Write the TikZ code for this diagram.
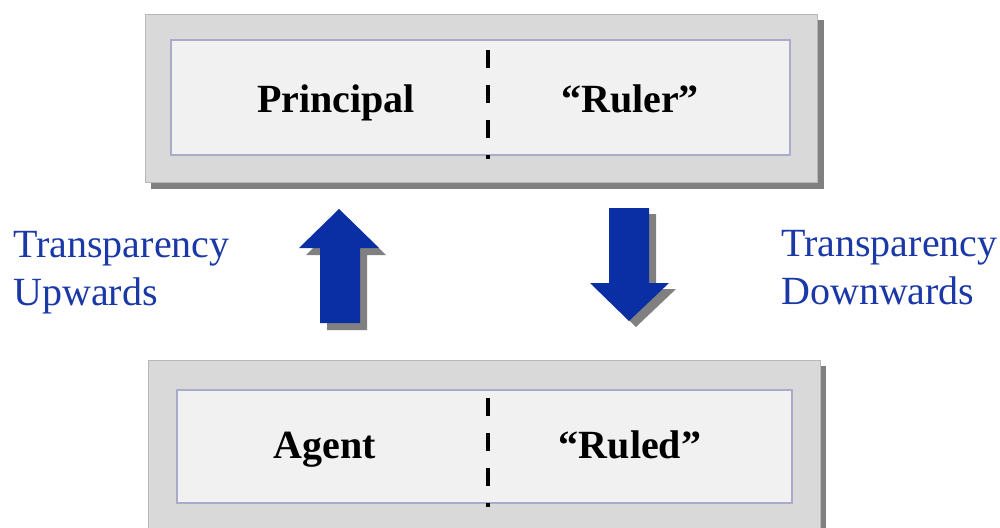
\documentclass[tikz,border=0pt]{standalone}
\usepackage{fontspec}
\setmainfont{Liberation Serif}
\definecolor{outerfill}{HTML}{D9D9D9}
\definecolor{outerline}{HTML}{B8B8B8}
\definecolor{shadowgray}{HTML}{808080}
\definecolor{innerfill}{HTML}{F1F1F1}
\definecolor{innerline}{HTML}{AAAACB}
\definecolor{arrowblue}{HTML}{0A2FA4}
\definecolor{labelblue}{HTML}{1A38A6}
\tikzset{
  outerbox/.style={fill=outerfill, draw=outerline, line width=0.6pt},
  shadowbox/.style={fill=shadowgray},
  innerbox/.style={fill=innerfill, draw=innerline, line width=1.6pt},
  divider/.style={draw=black, line width=2.4pt, dash pattern=on 13.5pt off 12.75pt},
  role/.style={font=\fontsize{30pt}{35pt}\selectfont\bfseries, anchor=base},
  sidelabel/.style={font=\fontsize{30pt}{36pt}\selectfont, text=labelblue, anchor=base west, inner sep=0pt},
  blockarrow/.style={fill=arrowblue},
  arrowshadow/.style={fill=shadowgray}
}
\begin{document}
\begin{tikzpicture}[x=0.75pt, y=-0.75pt]
  \useasboundingbox (0,0) rectangle (1000,528);

  % upper panel: principal / ruler
  \fill[shadowbox] (151,20) rectangle (824,189);
  \draw[outerbox] (145,14) rectangle (817,182);
  \draw[innerbox] (171,40) rectangle (790,155);
  \coordinate (topdashA) at (488,50);
  \coordinate (topdashB) at (488,159);
  \draw[divider] (topdashA) -- (topdashB);
  \node[role] (principal) at (336,113) {Principal};
  \node[role] (ruler) at (630,113) {“Ruler”};

  % lower panel: agent / ruled
  \fill[shadowbox] (154,366) rectangle (826,540);
  \draw[outerbox] (148,360) rectangle (820,540);
  \draw[innerbox] (177,390) rectangle (792,503);
  \coordinate (botdashA) at (488,398);
  \coordinate (botdashB) at (488,507);
  \draw[divider] (botdashA) -- (botdashB);
  \node[role] (agent) at (325,458) {Agent};
  \node[role] (ruled) at (630,458) {“Ruled”};

  % upward block arrow with shadow
  \fill[arrowshadow, shift={(7,7)}]
    (339,209) -- (379,248) -- (360,248) -- (360,323) -- (320,323) -- (320,248) -- (299,248) -- cycle;
  \fill[blockarrow]
    (339,209) -- (379,248) -- (360,248) -- (360,323) -- (320,323) -- (320,248) -- (299,248) -- cycle;

  % downward block arrow with shadow
  \fill[arrowshadow, shift={(7,6)}]
    (609,208) -- (649,208) -- (649,283) -- (669,283) -- (629,321) -- (590,283) -- (609,283) -- cycle;
  \fill[blockarrow]
    (609,208) -- (649,208) -- (649,283) -- (669,283) -- (629,321) -- (590,283) -- (609,283) -- cycle;

  % side labels
  \node[sidelabel] (upA) at (13,257) {Transparency};
  \node[sidelabel] (upB) at (13,305) {Upwards};
  \node[sidelabel] (downA) at (781,256) {Transparency};
  \node[sidelabel] (downB) at (781,304) {Downwards};
\end{tikzpicture}
\end{document}
